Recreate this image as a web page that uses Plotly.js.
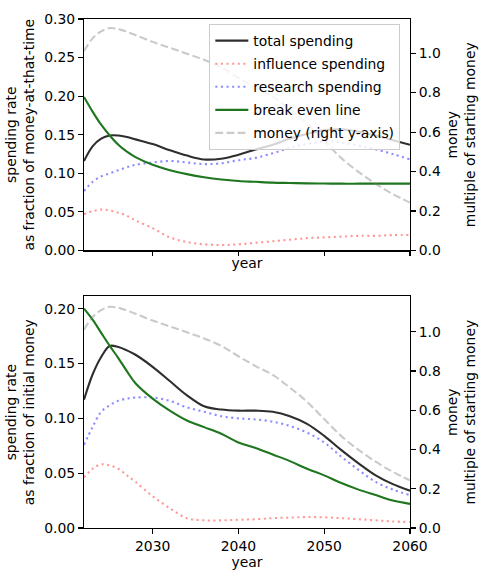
<!DOCTYPE html>
<html>
<head>
<meta charset="utf-8">
<script src="https://cdn.plot.ly/plotly-3.0.1.min.js"></script>
<style>html,body{margin:0;padding:0;background:#fff;}#chart{width:481px;height:577px;}</style>
</head>
<body>
<div id="chart"></div>
<script>
// ---- data ----
const years = [2022,2023,2024,2025,2026,2027,2028,2030,2032,2034,2036,2038,2040,2042,2044,2046,2048,2050,2052,2054,2056,2058,2060];

// top panel: spending rate as fraction of money-at-that-time
const topTotal      = [0.116,0.135,0.145,0.149,0.149,0.147,0.144,0.138,0.130,0.123,0.118,0.119,0.124,0.131,0.137,0.145,0.151,0.156,0.157,0.154,0.149,0.143,0.137];
const topInfluence  = [0.047,0.051,0.053,0.052,0.049,0.045,0.039,0.029,0.017,0.011,0.008,0.007,0.008,0.010,0.012,0.014,0.016,0.017,0.018,0.019,0.019,0.020,0.020];
const topResearch   = [0.077,0.089,0.096,0.100,0.104,0.108,0.111,0.114,0.116,0.114,0.112,0.113,0.117,0.120,0.126,0.133,0.138,0.141,0.140,0.136,0.131,0.125,0.118];
const topBreakEven  = [0.199,0.180,0.163,0.149,0.137,0.128,0.121,0.111,0.104,0.099,0.095,0.092,0.090,0.089,0.088,0.0875,0.087,0.0868,0.0866,0.0866,0.0866,0.0866,0.0866];

// money, multiple of starting money (right y-axis, both panels)
const money         = [1.01,1.075,1.11,1.127,1.122,1.108,1.092,1.057,1.027,0.997,0.966,0.928,0.875,0.825,0.78,0.715,0.643,0.555,0.468,0.398,0.338,0.286,0.243];

// bottom panel: spending rate as fraction of initial money
const botTotal      = [0.117,0.140,0.156,0.166,0.165,0.162,0.158,0.147,0.134,0.121,0.111,0.108,0.107,0.107,0.106,0.102,0.095,0.084,0.071,0.059,0.048,0.040,0.034];
const botInfluence  = [0.046,0.054,0.058,0.057,0.054,0.048,0.042,0.029,0.018,0.009,0.007,0.007,0.0075,0.008,0.009,0.0095,0.010,0.0097,0.009,0.008,0.007,0.006,0.0054];
const botResearch   = [0.076,0.092,0.106,0.112,0.116,0.118,0.119,0.119,0.116,0.110,0.106,0.102,0.100,0.099,0.097,0.093,0.087,0.078,0.065,0.053,0.042,0.035,0.030];
const botBreakEven  = [0.200,0.190,0.178,0.166,0.155,0.143,0.132,0.118,0.107,0.098,0.092,0.086,0.078,0.073,0.067,0.061,0.054,0.048,0.041,0.035,0.030,0.025,0.022];

const seriesNames = ['total spending','influence spending','research spending','break even line','money (right y-axis)'];
const xTicks = [2030,2040,2050,2060];
const leftTicksTop = [0,0.05,0.10,0.15,0.20,0.25,0.30];
const leftTicksBot = [0,0.05,0.10,0.15,0.20];
const rightTicks = [0,0.2,0.4,0.6,0.8,1.0];

// ---- styles ----
const LW = 2.1;
const styles = [
  {color:'rgba(0,0,0,0.82)', width:LW, dash:'solid'},
  {color:'rgba(255,0,0,0.4)', width:LW, dash:'2.1px,3.5px'},
  {color:'rgba(0,0,255,0.45)', width:LW, dash:'2.1px,3.5px'},
  {color:'rgb(30,118,30)', width:LW, dash:'solid'},
  {color:'rgba(128,128,128,0.42)', width:LW, dash:'7.8px,3.4px'}
];

function tr(y, i, xa, ya, legend){
  return {x: years, y: y, type:'scatter', mode:'lines', name: seriesNames[i],
    legendgroup: 'g' + i,
    xaxis: xa, yaxis: ya, showlegend: legend, hoverinfo:'skip',
    line: Object.assign({shape:'spline', smoothing:1}, styles[i])};
}

const data = [
  tr(topTotal,0,'x','y',true),
  tr(topInfluence,1,'x','y',true),
  tr(topResearch,2,'x','y',true),
  tr(topBreakEven,3,'x','y',true),
  tr(money,4,'x','y2',true),
  tr(botTotal,0,'x2','y3',false),
  tr(botInfluence,1,'x2','y3',false),
  tr(botResearch,2,'x2','y3',false),
  tr(botBreakEven,3,'x2','y3',false),
  tr(money,4,'x2','y4',false)
];

const FONT = {family:'DejaVu Sans, sans-serif', size:13.9, color:'#000'};
const axBase = {showline:true, linecolor:'#000', linewidth:1.1, ticks:'outside', ticklen:4.9, tickwidth:1.1,
  tickcolor:'#000', showgrid:false, zeroline:false, tickfont:FONT, automargin:false};

const topDom = [0.5452, 1];
const botDom = [0, 0.455];

const layout = {
  width:481, height:577,
  margin:{l:84, r:71, t:19, b:48.7},
  paper_bgcolor:'#fff', plot_bgcolor:'#fff',
  font: FONT,
  showlegend:true,
  legend:{x:0.3844, y:0.99, xanchor:'left', yanchor:'top', bgcolor:'rgba(255,255,255,0.8)',
    bordercolor:'#cccccc', borderwidth:1, font:FONT, itemwidth:33, traceorder:'grouped', tracegroupgap:2},
  xaxis: Object.assign({}, axBase, {domain:[0,1], anchor:'y', range:[2022,2060], tickvals:xTicks,
    showticklabels:false, mirror:true, title:{text:'year', font:FONT, standoff:2}}),
  yaxis: Object.assign({}, axBase, {domain:topDom, anchor:'x', range:[0,0.30], tickvals:leftTicksTop, tickformat:'.2f',
    title:{text:'spending rate<br>as fraction of money-at-that-time', font:FONT, standoff:6}}),
  yaxis2: Object.assign({}, axBase, {domain:topDom, anchor:'x', overlaying:'y', side:'right', range:[0,1.173],
    tickvals:rightTicks, tickformat:'.1f', title:{text:'money<br>multiple of starting money', font:FONT, standoff:7}}),
  xaxis2: Object.assign({}, axBase, {domain:[0,1], anchor:'y3', range:[2022,2060], tickvals:xTicks, tickformat:'d',
    mirror:true, title:{text:'year', font:FONT, standoff:4}}),
  yaxis3: Object.assign({}, axBase, {domain:botDom, anchor:'x2', range:[0,0.2112], tickvals:leftTicksBot, tickformat:'.2f',
    title:{text:'spending rate<br>as fraction of initial money', font:FONT, standoff:6}}),
  yaxis4: Object.assign({}, axBase, {domain:botDom, anchor:'x2', overlaying:'y3', side:'right', range:[0,1.18],
    tickvals:rightTicks, tickformat:'.1f', title:{text:'money<br>multiple of starting money', font:FONT, standoff:7}})
};

Plotly.newPlot('chart', data, layout, {staticPlot:true, displayModeBar:false});
</script>
</body>
</html>
